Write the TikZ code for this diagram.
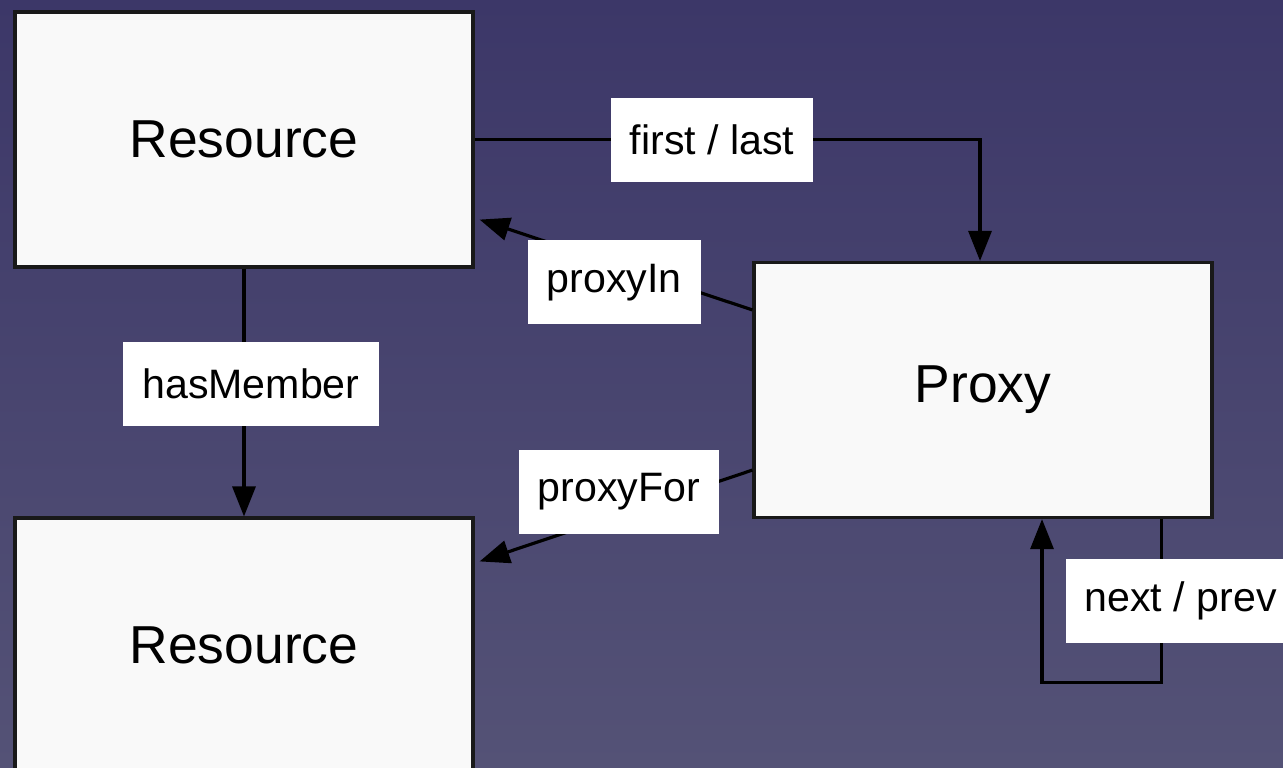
\documentclass[tikz,border=0pt]{standalone}
\usepackage{fontspec}
\setmainfont{Liberation Sans}
\usetikzlibrary{arrows.meta,calc}
\definecolor{bgtop}{RGB}{60,55,104}
\definecolor{bgbottom}{RGB}{84,82,118}
\definecolor{boxfill}{RGB}{249,249,249}

\begin{document}
\begin{tikzpicture}[line width=0.9pt,
    res/.style={draw=black!90,fill=boxfill,minimum width=4.58cm,minimum height=2.55cm,font=\fontsize{15.2}{18}\selectfont},
    lbl/.style={fill=white,inner xsep=0.19cm,minimum height=0.84cm,font=\fontsize{11.7}{14}\selectfont},
    arr/.style={-{Triangle[width=0.23cm,length=0.3cm]}}]
        \shade[top color=bgtop,bottom color=bgbottom] (0,0) rectangle (12.83,7.67);
        \useasboundingbox (0,0) rectangle (12.83,7.67);
        \clip (0,0) rectangle (12.83,7.67);

        \node[res] (res1) at (2.44,6.275) {Resource};
        \node[res] (res2) at (2.44,1.215) {Resource};
        \node[res] (proxy) at (9.83,3.77) {Proxy};

        \draw[arr] (res1.east) -| node[lbl,pos=0.235] (firstlast) {first / last} ($(proxy.north)+(-0.03,0)$);
        \draw[arr] ($(proxy.north west)+(0,-0.49)$) -- node[lbl,pos=0.507,yshift=-0.18cm] (proxyin) {proxyIn} ($(res1.south east)+(0.05,0.49)$);
        \draw[arr] ($(proxy.south west)+(0,0.49)$) -- node[lbl,pos=0.49,yshift=0.23cm] (proxyfor) {proxyFor} ($(res2.north east)+(0.05,-0.45)$);
        \draw[arr] (res1.south) -- node[lbl,pos=0.466,xshift=0.07cm] (hasmember) {hasMember} (res2.north);
        \draw[arr] ($(proxy.south east)+(-0.52,0)$) -- node[lbl,midway,xshift=0.19cm] (nextprev) {next / prev} ++(0,-1.63) -| ($(proxy.south)+(0.59,0)$);
\end{tikzpicture}
\end{document}
